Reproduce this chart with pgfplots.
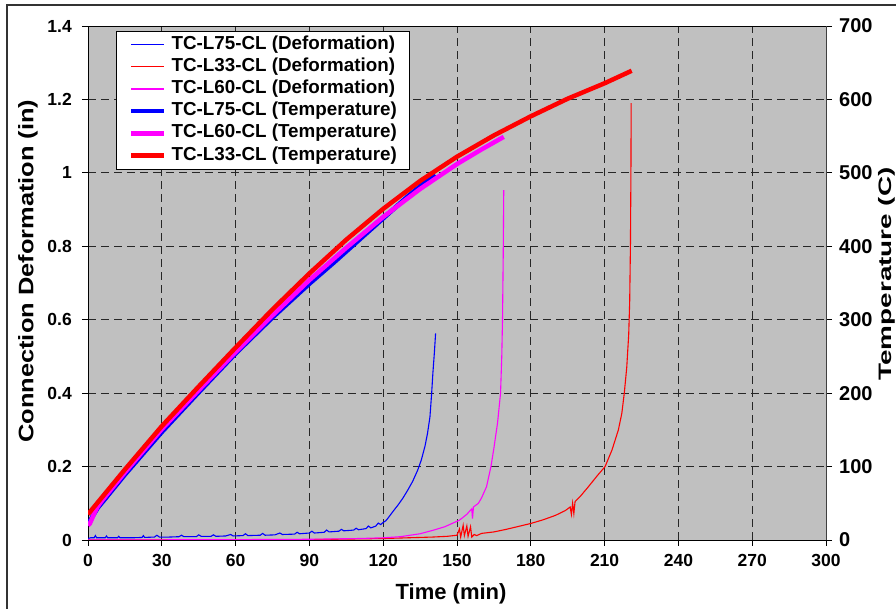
\documentclass[border=0pt]{standalone}
\usepackage{graphicx}
\usepackage{fontspec}
\setmainfont{Liberation Sans}
\usepackage{pgfplots}
\pgfplotsset{compat=1.18}
\definecolor{plotgray}{RGB}{192,192,192}
\definecolor{pblue}{RGB}{0,0,255}
\definecolor{pred}{RGB}{255,0,0}
\definecolor{pmag}{RGB}{255,0,255}
\begin{document}
\begin{tikzpicture}
\useasboundingbox (-88pt,-69pt) rectangle (808pt,540pt);
% chart border
\draw[line width=1.3pt, black!80] (-81pt,-90pt) -- (-81pt,535pt) -- (830pt,535pt);

% ---------------- deformation (left axis) ----------------
\begin{axis}[
  at={(0pt,0pt)}, anchor=south west,
  scale only axis, width=738pt, height=514pt,
  xmin=0, xmax=300, ymin=0, ymax=1.4,
  xtick distance=30, ytick distance=0.2,
  xtick pos=left, ytick pos=left,
  tick align=outside, major tick length=6pt,
  tick style={black, line width=0.8pt},
  axis line style={black, line width=0.8pt},
  axis background/.style={fill=plotgray},
  grid=major,
  major grid style={black!85, line width=0.9pt, dash pattern=on 8pt off 5pt},
  /pgf/number format/assume math mode=true,
  ticklabel style={font=\fontsize{17.5}{20}\selectfont\bfseries},
  xticklabel style={inner sep=0pt, yshift=-8pt},
  yticklabel style={inner sep=0pt, xshift=-10pt},
  xlabel={Time (min)},
  xlabel style={font=\fontsize{22}{26}\selectfont\bfseries, at={(axis description cs:0.492,-0.1167)}, anchor=base},
  ylabel={\scalebox{1.21}[1]{Connection Deformation (in)}},
  ylabel style={font=\fontsize{21}{24}\selectfont\bfseries, at={(axis description cs:-0.0813,0.523)}, anchor=center},
]
% TC-L75-CL deformation
\addplot[pblue, line width=1.1pt] coordinates {
(0,0.004) (1,0.006) (2.5,0.006) (3,0.012) (3.5,0.006) (7,0.006) (7.5,0.011) (8,0.006)
(12,0.006) (12.5,0.010) (13,0.006) (18,0.006) (22,0.007) (22.5,0.012) (23,0.007)
(27,0.008) (28,0.013) (29,0.008) (33,0.008) (37,0.009) (38,0.013) (39,0.009)
(44,0.009) (45,0.014) (46,0.010) (50,0.010) (51,0.014) (52,0.010) (56,0.011)
(58,0.015) (59,0.011) (63,0.012) (64,0.017) (65,0.012) (70,0.013) (71,0.018)
(72,0.013) (76,0.014) (78,0.019) (79,0.015) (84,0.016) (85,0.021) (86,0.017)
(90,0.019) (91,0.024) (92,0.019) (96,0.021) (97,0.027) (98,0.022) (102,0.024)
(103,0.029) (104,0.025) (108,0.027) (109,0.032) (110,0.028) (113,0.031) (114,0.038)
(115,0.033) (117,0.038) (118,0.046) (119,0.042) (120,0.048) (121,0.052) (122,0.060)
(124,0.078) (126,0.095) (128,0.114) (130,0.136) (132,0.160) (134,0.190) (135.5,0.218)
(137,0.256) (138,0.290) (139,0.335) (139.7,0.400) (140.2,0.455) (140.8,0.510) (141.3,0.563)
};
% TC-L33-CL deformation
\addplot[pred, line width=1.1pt] coordinates {
(0,0) (80,0) (100,0.002) (120,0.004) (130,0.006) (140,0.008) (146,0.010) (150,0.013)
(151,0.030) (151.5,0.008) (152.5,0.040) (153,0.012) (154,0.038) (154.5,0.010)
(155.5,0.036) (156,0.008) (157,0.015) (158,0.012) (160,0.018) (165,0.022) (170,0.029)
(175,0.037) (180,0.045) (185,0.055) (190,0.067) (194,0.080) (196,0.090) (196.5,0.070)
(197,0.100) (197.5,0.072) (198,0.105) (200,0.118) (203.4,0.145) (207,0.175)
(210.2,0.200) (213,0.245) (215.6,0.300) (217,0.345) (218,0.400) (219,0.470)
(219.8,0.560) (220.2,0.650) (220.5,0.800) (220.7,1.000) (220.8,1.190)
};
% TC-L60-CL deformation
\addplot[pmag, line width=1.1pt] coordinates {
(0,0) (60,0.001) (90,0.002) (110,0.004) (120,0.006) (127,0.009) (135,0.017) (140,0.026)
(145,0.036) (151,0.054) (154,0.070) (156,0.085) (156.3,0.058) (156.7,0.090)
(158.7,0.100) (160,0.115) (162,0.145) (163.8,0.200) (165,0.250) (166.5,0.320)
(167.7,0.400) (168.2,0.500) (168.5,0.600) (168.8,0.780) (169,0.953)
};
\end{axis}

% ---------------- temperature (right axis) ----------------
\begin{axis}[
  at={(0pt,0pt)}, anchor=south west,
  scale only axis, width=738pt, height=514pt,
  xmin=0, xmax=300, ymin=0, ymax=700,
  axis x line=none, axis y line*=right,
  ytick distance=100,
  tick align=outside, major tick length=6pt,
  tick style={black, line width=0.8pt},
  axis line style={-, black!75, line width=0.8pt},
  /pgf/number format/assume math mode=true,
  ticklabel style={font=\fontsize{20}{22}\selectfont\bfseries},
  yticklabel style={inner sep=0pt, xshift=7pt},
  ylabel={\scalebox{1.55}[1]{Temperature (C)}},
  ylabel style={font=\fontsize{18}{22}\selectfont\bfseries, at={(axis description cs:1.083,0.5175)}, anchor=center},
  legend cell align=left,
  legend image code/.code={\draw[#1] (0pt,0pt) -- (33pt,0pt);},
  legend style={at={(axis description cs:0.0375,0.991)}, anchor=north west,
    draw=black, line width=0.9pt, fill=white,
    font=\fontsize{18.8}{21}\selectfont\bfseries,
    inner xsep=13pt, inner ysep=5pt, row sep=5.2pt, column sep=5pt,
    nodes={inner sep=0pt, text height=13pt, text depth=4pt}},
]
\addlegendimage{pblue, line width=1.1pt}
\addlegendentry{TC-L75-CL (Deformation)}
\addlegendimage{pred, line width=1.1pt}
\addlegendentry{TC-L33-CL (Deformation)}
\addlegendimage{pmag, line width=1.1pt}
\addlegendentry{TC-L60-CL (Deformation)}
% TC-L75-CL temperature
\addplot[pblue, line width=4.5pt, line join=round] coordinates {
(0,24) (1,27) (2,33) (4,44) (6,52) (15,89) (30,147) (45,201) (60,254) (75,303)
(90,349) (100,378) (110,408) (120,438) (130,468) (141,498)
};
\addlegendentry{TC-L75-CL (Temperature)}
% TC-L60-CL temperature
\addplot[pmag, line width=4.5pt, line join=round] coordinates {
(0,20) (0.7,22) (1.5,28) (2.5,36) (4,46) (6,55) (15,92) (30,151) (45,204) (60,256)
(75,306) (90,354) (105,398) (120,440) (135,478) (150,512) (160,532) (169,549)
};
\addlegendentry{TC-L60-CL (Temperature)}
% TC-L33-CL temperature
\addplot[pred, line width=4.5pt, line join=round] coordinates {
(0,35) (15,96) (30,155) (45,209) (60,262) (75,314) (90,363) (105,409) (120,451)
(135,489) (150,522) (165,551) (180,577) (195,601) (210,622) (221,639)
};
\addlegendentry{TC-L33-CL (Temperature)}
\end{axis}
\end{tikzpicture}
\end{document}
